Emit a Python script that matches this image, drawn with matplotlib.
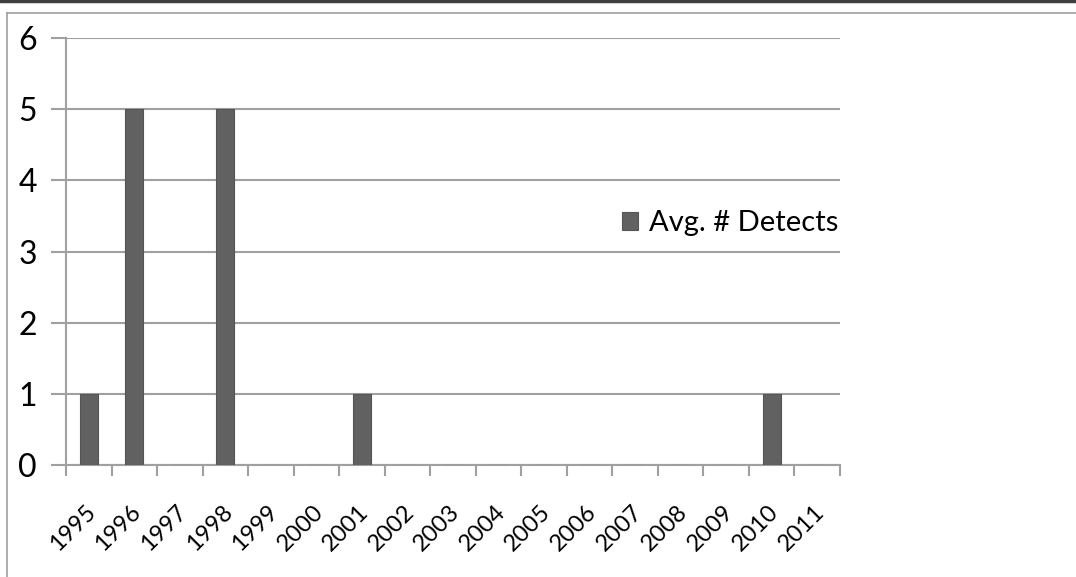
import numpy as np
import matplotlib.pyplot as plt
import matplotlib.transforms as mtransforms
from matplotlib.lines import Line2D

years = ['1995', '1996', '1997', '1998', '1999', '2000', '2001', '2002', '2003',
         '2004', '2005', '2006', '2007', '2008', '2009', '2010', '2011']
detects = [1, 5, 0, 5, 0, 0, 1, 0, 0, 0, 0, 0, 0, 0, 0, 1, 0]
series_name = 'Avg. # Detects'

plt.rcParams['font.family'] = ['Lato', 'DejaVu Sans']
grey = '#a0a0a0'
bar_col = '#616161'

fig = plt.figure(figsize=(10.76, 5.77), dpi=100)

# outer frame and dark top strip
fig.add_artist(Line2D([0, 1], [1 - 1 / 577, 1 - 1 / 577], color='#404040', lw=2.5,
                      transform=fig.transFigure))
fig.add_artist(Line2D([7 / 1076, 1], [1 - 13 / 577, 1 - 13 / 577], color=grey, lw=1.2,
                      transform=fig.transFigure))
fig.add_artist(Line2D([7 / 1076, 7 / 1076], [0, 1 - 13 / 577], color=grey, lw=1.2,
                      transform=fig.transFigure))

ax = fig.add_axes([66 / 1076, 1 - 465 / 577, (840 - 66) / 1076, (465 - 38) / 577])
x = np.arange(len(years))
ax.bar(x, detects, width=0.4, color=bar_col, edgecolor='#555555', lw=0.8,
       label=series_name, zorder=3)

ax.set_xlim(-0.5, len(years) - 0.5)
ax.set_ylim(0, 6)
ax.set_yticks(range(0, 7))
ax.set_yticklabels([str(v) for v in range(0, 7)], fontsize=23)
ax.yaxis.grid(True, color=grey, lw=1.5, zorder=0)
ax.tick_params(axis='y', length=11, width=1.5, color=grey, pad=10)

ax.set_xticks(x)
ax.set_xticklabels(years, rotation=45, ha='right', rotation_mode='anchor', fontsize=17)
ax.set_xticks(np.arange(-0.5, len(years)), minor=True)
ax.tick_params(axis='x', which='major', length=0, pad=26)
ax.tick_params(axis='x', which='minor', length=8, width=1.5, color=grey)
# shift labels so they end near the category centre
offset = mtransforms.ScaledTranslation(-4 / 100, 0, fig.dpi_scale_trans)
for lbl in ax.get_xticklabels():
    lbl.set_transform(lbl.get_transform() + offset)

for side in ['top', 'right']:
    ax.spines[side].set_visible(False)
for side in ['left', 'bottom']:
    ax.spines[side].set_color(grey)
    ax.spines[side].set_linewidth(1.5)

ax.legend(loc='center left', bbox_to_anchor=(0.684, 0.566), frameon=False, fontsize=21,
          handlelength=0.55, handleheight=0.55, handletextpad=0.4)

fig.savefig('out.png', dpi=100)
